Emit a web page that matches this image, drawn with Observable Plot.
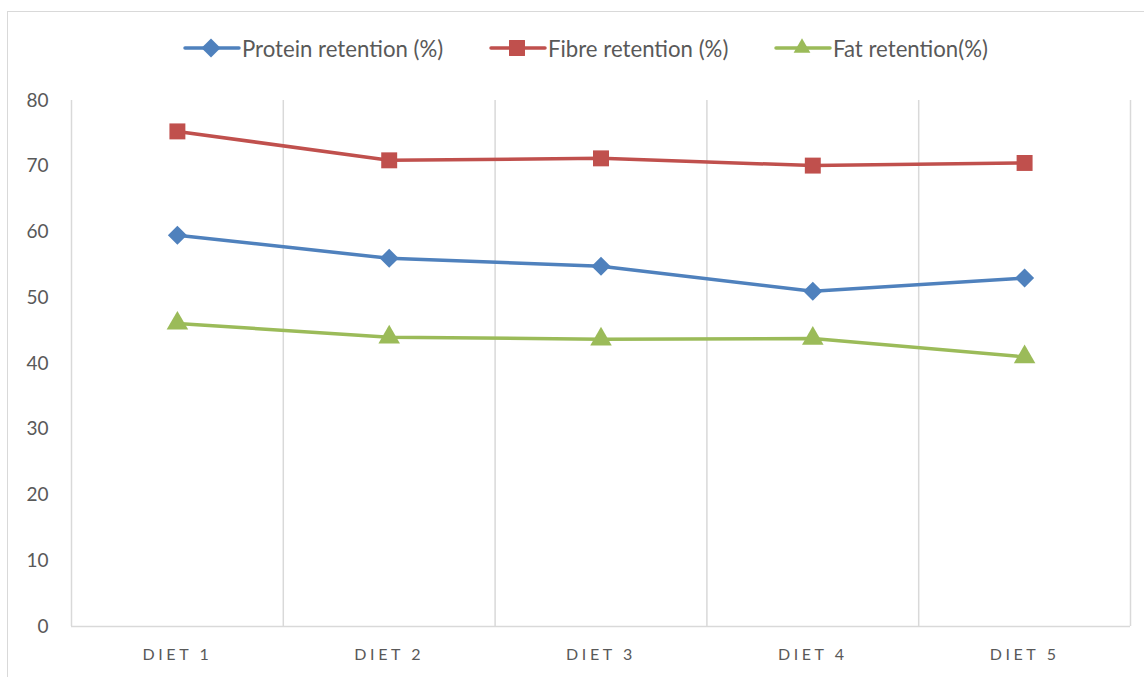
<!DOCTYPE html>
<html>
<head>
<meta charset="utf-8">
<script src="https://cdn.jsdelivr.net/npm/d3@7"></script>
<script src="https://cdn.jsdelivr.net/npm/@observablehq/plot@0.6"></script>
<style>
  html, body { margin: 0; padding: 0; background: #fff; }
  #wrap { position: relative; width: 1144px; height: 677px; overflow: hidden; font-family: Lato, "Open Sans", sans-serif; }
  #frame { position: absolute; left: 7px; top: 11px; width: 1200px; height: 800px; border: 1.5px solid #d9d9d9; box-sizing: border-box; pointer-events: none; }
  #chart { position: absolute; left: 0; top: 0; }
  .leg { position: absolute; top: 36px; height: 24px; display: flex; align-items: center; font-size: 22.2px; color: #595959; white-space: nowrap; }
  .leg svg { margin-right: 1px; }
  svg [aria-label="x-axis tick label"] text { letter-spacing: 3.6px; }
</style>
</head>
<body>
<div id="wrap">
  <div id="chart"></div>
  <div id="legend"></div>
  <div id="frame"></div>
</div>
<script>
const categories = ["DIET 1", "DIET 2", "DIET 3", "DIET 4", "DIET 5"];
const protein = [59.5, 56.0, 54.8, 51.0, 53.0];
const fibre = [75.3, 70.9, 71.2, 70.1, 70.5];
const fat = [46.1, 44.0, 43.7, 43.8, 41.0];
const seriesNames = ["Protein retention (%)", "Fibre retention (%)", "Fat retention(%)"];
const seriesColors = ["#4F81BD", "#C0504D", "#9BBB59"];
const seriesSymbols = ["diamond2", "square", "triangle"];
const yTicks = [0, 10, 20, 30, 40, 50, 60, 70, 80];

const seriesValues = [protein, fibre, fat];
const data = seriesNames.flatMap((name, s) =>
  categories.map((c, i) => ({ name, pos: i + 1, value: seriesValues[s][i] }))
);
const positions = categories.map((c, i) => i + 1);
const boundaries = d3.range(0.5, categories.length + 1, 1);
const markerR = { "diamond2": 8.6, "square": 9.0, "triangle": 8.0 };

const chart = Plot.plot({
  width: 1144,
  height: 677,
  marginLeft: 71,
  marginRight: 14,
  marginTop: 100,
  marginBottom: 51,
  style: { fontFamily: "Lato, 'Open Sans', sans-serif", color: "#595959", background: "transparent" },
  x: { domain: [0.5, categories.length + 0.5] },
  y: { domain: [0, 80] },
  color: { domain: seriesNames, range: seriesColors },
  symbol: { domain: seriesNames, range: seriesSymbols },
  marks: [
    Plot.ruleX(boundaries, { stroke: "#d9d9d9", strokeWidth: 1.5 }),
    Plot.ruleY([0], { stroke: "#d9d9d9", strokeWidth: 1.5 }),
    Plot.axisY({ ticks: yTicks, tickSize: 0, tickPadding: 23, fontSize: 19, label: null, fill: "#595959" }),
    Plot.axisX({ ticks: positions, tickFormat: (d) => categories[d - 1], tickSize: 0, tickPadding: 22, fontSize: 16, label: null, fill: "#595959" }),
    Plot.line(data, { x: "pos", y: "value", z: "name", stroke: "name", strokeWidth: 3.5, strokeLinejoin: "round", strokeLinecap: "round" }),
    ...seriesNames.map((name, s) =>
      Plot.dot(data.filter(d => d.name === name), {
        x: "pos", y: "value", symbol: "name", fill: "name", stroke: "none",
        r: markerR[seriesSymbols[s]]
      })
    )
  ]
});
document.getElementById("chart").appendChild(chart);

// Legend
const legendX = [183, 489, 774];
const legend = document.getElementById("legend");
const symMap = { diamond2: d3.symbolDiamond2, square: d3.symbolSquare, triangle: d3.symbolTriangle2 };
seriesNames.forEach((name, s) => {
  const item = document.createElement("div");
  item.className = "leg";
  item.style.left = legendX[s] + "px";
  const sw = d3.create("svg").attr("width", 58).attr("height", 24);
  sw.append("line").attr("x1", 2).attr("x2", 56).attr("y1", 12).attr("y2", 12)
    .attr("stroke", seriesColors[s]).attr("stroke-width", 3.5).attr("stroke-linecap", "round");
  const r = markerR[seriesSymbols[s]];
  sw.append("path").attr("transform", "translate(28,12)")
    .attr("d", d3.symbol(symMap[seriesSymbols[s]], r * r * Math.PI)())
    .attr("fill", seriesColors[s]);
  item.appendChild(sw.node());
  const t = document.createElement("span");
  t.textContent = name;
  item.appendChild(t);
  legend.appendChild(item);
});
</script>
</body>
</html>
